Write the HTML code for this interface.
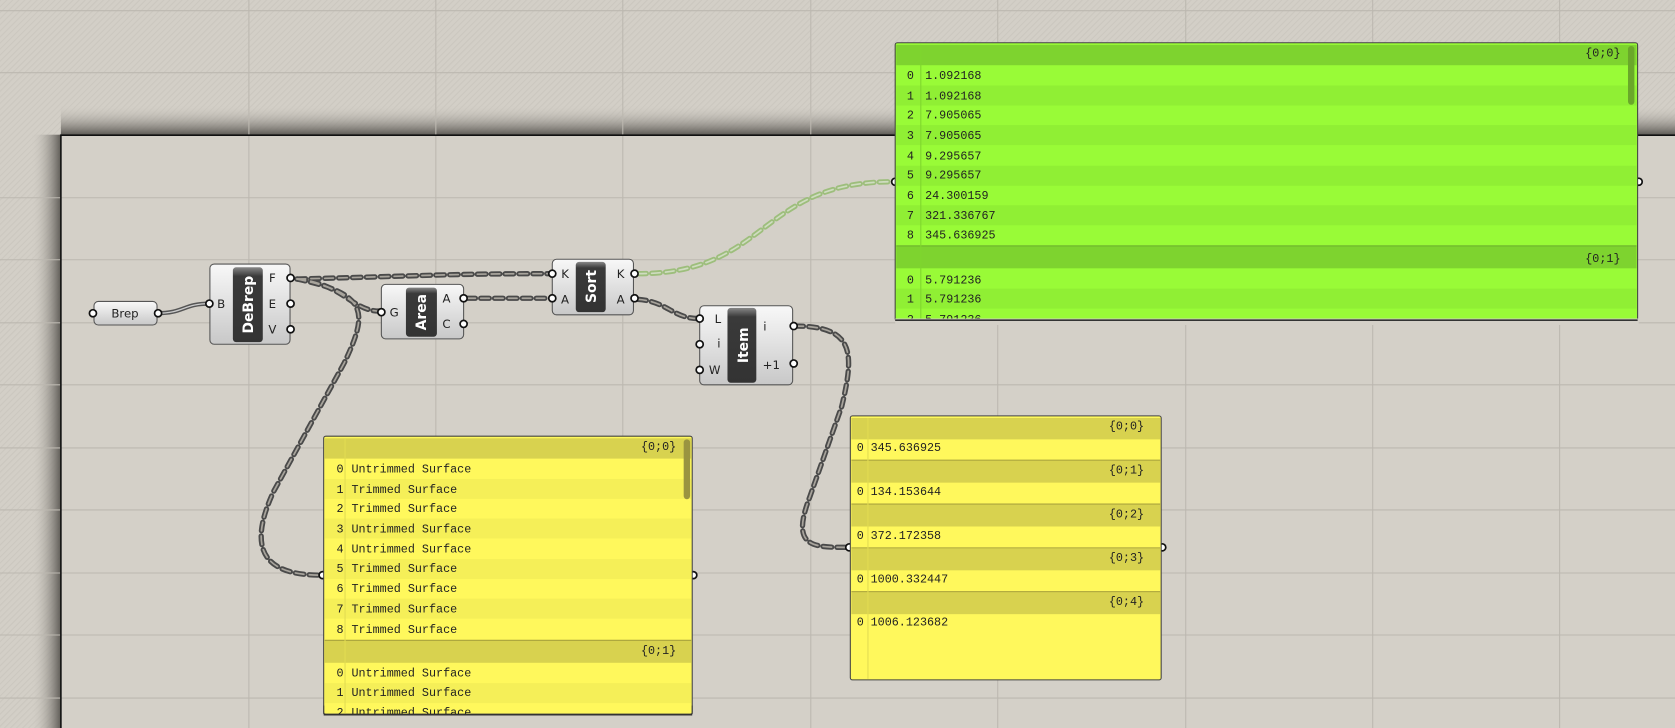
<!DOCTYPE html>
<html><head><meta charset="utf-8"><style>
html,body{margin:0;padding:0;background:#d4d0c8;overflow:hidden}
svg{display:block}
.m{font-family:"Liberation Mono",monospace;font-size:11px;fill:#222}
.s{font-family:"DejaVu Sans","Liberation Sans",sans-serif;font-size:11px;fill:#222}
.b{font-family:"DejaVu Sans","Liberation Sans",sans-serif;font-size:13px;font-weight:bold;fill:#fff}
</style></head><body>
<svg width="1675" height="728" viewBox="0 0 1568 681" preserveAspectRatio="none" xmlns="http://www.w3.org/2000/svg">
<defs>
<pattern id="h" width="4" height="4" patternUnits="userSpaceOnUse" patternTransform="rotate(45)"><rect width="4" height="4" fill="#d3cfc7"/><rect width="1" height="4" fill="#cbc7bf"/></pattern>
<linearGradient id="st" x1="0" y1="0" x2="0" y2="1"><stop offset="0" stop-color="#d3cfc7" stop-opacity="0"/><stop offset="1" stop-color="#5e5b56"/></linearGradient>
<linearGradient id="sl" x1="0" y1="0" x2="1" y2="0"><stop offset="0" stop-color="#d3cfc7" stop-opacity="0"/><stop offset="1" stop-color="#5e5b56"/></linearGradient>
<linearGradient id="nd" x1="0" y1="0" x2="0" y2="1"><stop offset="0" stop-color="#f8f8f8"/><stop offset="1" stop-color="#c8c8c8"/></linearGradient>
<linearGradient id="bar" x1="0" y1="0" x2="0" y2="1"><stop offset="0" stop-color="#888"/><stop offset="0.12" stop-color="#3a3a3a"/><stop offset="1" stop-color="#333"/></linearGradient>
</defs>
<rect width="1568" height="681" fill="url(#h)"/>
<rect x="57" y="98" width="1511" height="28" fill="url(#st)"/>
<rect x="29" y="126" width="28" height="555" fill="url(#sl)"/>
<rect x="57" y="126" width="1511" height="555" fill="#d4d0c8"/>
<g stroke="#bcb8b0" stroke-width="1">
<line x1="0" y1="10" x2="1568" y2="10"/><line x1="0" y1="68" x2="1568" y2="68"/>
<line x1="0" y1="185" x2="1568" y2="185"/><line x1="0" y1="243" x2="1568" y2="243"/><line x1="0" y1="302" x2="1568" y2="302"/><line x1="0" y1="360" x2="1568" y2="360"/><line x1="0" y1="419" x2="1568" y2="419"/><line x1="0" y1="477" x2="1568" y2="477"/><line x1="0" y1="536" x2="1568" y2="536"/><line x1="0" y1="594" x2="1568" y2="594"/><line x1="0" y1="653" x2="1568" y2="653"/>
<line x1="233" y1="0" x2="233" y2="681"/><line x1="408" y1="0" x2="408" y2="681"/><line x1="583" y1="0" x2="583" y2="681"/><line x1="759" y1="0" x2="759" y2="681"/><line x1="934" y1="0" x2="934" y2="681"/><line x1="1110" y1="0" x2="1110" y2="681"/><line x1="1285" y1="0" x2="1285" y2="681"/><line x1="1460" y1="0" x2="1460" y2="681"/>
</g>
<path d="M57,681 V126.5 H1568" fill="none" stroke="#111" stroke-width="1.5"/>

<!-- wires -->
<path d="M147,293 C172,293 172,284 196,284" fill="none" stroke="#555" stroke-width="4"/>
<path d="M147,293 C172,293 172,284 196,284" fill="none" stroke="#ccc" stroke-width="1.2"/>
<g fill="none" stroke-linecap="round">
<g stroke="#4a4a4a" stroke-width="5" stroke-dasharray="8 5">
<path d="M278,261 C400,258 420,256 515,256"/>
<path d="M278,261 C320,265 330,291 355,291"/>
<path d="M278,261 C345,275 345,292 322,340 L256,460 C232,512 245,538 300,538"/>
<path d="M437,279 L515,279"/>
<path d="M597,280 C625,282 630,298 654,298"/>
<path d="M744,305 C800,305 800,330 788,380 L758,465 C740,512 760,512 794,512"/>
</g>
<g stroke="#a8a49c" stroke-width="1.6" stroke-dasharray="8 5">
<path d="M278,261 C400,258 420,256 515,256"/>
<path d="M278,261 C320,265 330,291 355,291"/>
<path d="M278,261 C345,275 345,292 322,340 L256,460 C232,512 245,538 300,538"/>
<path d="M437,279 L515,279"/>
<path d="M597,280 C625,282 630,298 654,298"/>
<path d="M744,305 C800,305 800,330 788,380 L758,465 C740,512 760,512 794,512"/>
</g>
<path d="M597,256 C720,256 710,170 836,170" stroke="#9dbe7c" stroke-width="5" stroke-dasharray="8 5"/>
<path d="M597,256 C720,256 710,170 836,170" stroke="#cfdcc0" stroke-width="1.6" stroke-dasharray="8 5"/>
</g>

<!-- nodes -->
<rect x="88" y="282" width="59" height="22" rx="4" fill="url(#nd)" stroke="#555"/>
<text x="117" y="297" text-anchor="middle" class="s">Brep</text>

<rect x="196.5" y="247" width="75" height="75" rx="4" fill="url(#nd)" stroke="#555"/>
<rect x="218" y="250" width="28" height="70" rx="3" fill="url(#bar)"/>
<text transform="translate(237,285) rotate(-90)" text-anchor="middle" class="b">DeBrep</text>
<text x="207" y="288" text-anchor="middle" class="s">B</text>
<text x="255" y="264" text-anchor="middle" class="s">F</text><text x="255" y="288" text-anchor="middle" class="s">E</text><text x="255" y="312" text-anchor="middle" class="s">V</text>

<rect x="357" y="266" width="77" height="51" rx="4" fill="url(#nd)" stroke="#555"/>
<rect x="380" y="269" width="29" height="46" rx="3" fill="url(#bar)"/>
<text transform="translate(399,292) rotate(-90)" text-anchor="middle" class="b">Area</text>
<text x="369" y="296" text-anchor="middle" class="s">G</text>
<text x="418" y="283" text-anchor="middle" class="s">A</text><text x="418" y="307" text-anchor="middle" class="s">C</text>

<rect x="517" y="242.5" width="76" height="52" rx="4" fill="url(#nd)" stroke="#555"/>
<rect x="539" y="245" width="28" height="47" rx="3" fill="url(#bar)"/>
<text transform="translate(558,268) rotate(-90)" text-anchor="middle" class="b">Sort</text>
<text x="529" y="260" text-anchor="middle" class="s">K</text><text x="529" y="284" text-anchor="middle" class="s">A</text>
<text x="581" y="260" text-anchor="middle" class="s">K</text><text x="581" y="284" text-anchor="middle" class="s">A</text>

<rect x="655" y="286" width="87" height="74" rx="4" fill="url(#nd)" stroke="#555"/>
<rect x="681" y="288" width="27" height="70" rx="3" fill="url(#bar)"/>
<text transform="translate(700,323) rotate(-90)" text-anchor="middle" class="b">Item</text>
<text x="672" y="302" text-anchor="middle" class="s">L</text><text x="673" y="325" text-anchor="middle" class="s">i</text><text x="669" y="350" text-anchor="middle" class="s">W</text>
<text x="716" y="309" text-anchor="middle" class="s">i</text><text x="722" y="345" text-anchor="middle" class="s">+1</text>

<g fill="#fff" stroke="#111" stroke-width="1.6">
<circle cx="87" cy="293" r="3.3"/><circle cx="148" cy="293" r="3.3"/>
<circle cx="196" cy="284" r="3.3"/><circle cx="272" cy="260" r="3.3"/><circle cx="272" cy="284" r="3.3"/><circle cx="272" cy="308" r="3.3"/>
<circle cx="357" cy="292" r="3.3"/><circle cx="434" cy="279" r="3.3"/><circle cx="434" cy="303" r="3.3"/>
<circle cx="517" cy="256" r="3.3"/><circle cx="517" cy="279" r="3.3"/><circle cx="594" cy="256" r="3.3"/><circle cx="594" cy="279" r="3.3"/>
<circle cx="655" cy="298" r="3.3"/><circle cx="655" cy="322" r="3.3"/><circle cx="655" cy="346" r="3.3"/>
<circle cx="743" cy="305" r="3.3"/><circle cx="743" cy="340" r="3.3"/>
<circle cx="838" cy="170" r="3.3"/><circle cx="1534" cy="170" r="3.3"/>
<circle cx="302" cy="538" r="3.3"/><circle cx="649" cy="538" r="3.3"/>
<circle cx="795" cy="512" r="3.3"/><circle cx="1088" cy="512" r="3.3"/>
</g>

<!-- green panel -->
<rect x="838" y="40" width="695" height="260" rx="2" fill="#99fb37" stroke="#444"/>
<g>
<rect x="839" y="42" width="693" height="19" fill="#7ed32f"/>
<rect x="839" y="80" width="693" height="18.7" fill="#90ef34"/>
<rect x="839" y="117" width="693" height="18.7" fill="#90ef34"/>
<rect x="839" y="155" width="693" height="18.7" fill="#90ef34"/>
<rect x="839" y="192" width="693" height="18.7" fill="#90ef34"/>
<rect x="839" y="230" width="693" height="21" fill="#7ed32f"/>
<rect x="839" y="270" width="693" height="18.7" fill="#90ef34"/>
<line x1="839" y1="230" x2="1532" y2="230" stroke="#6aab2c"/>
<line x1="862" y1="42" x2="862" y2="299" stroke="#7fd62e"/>
<rect x="1524" y="43" width="6" height="55" rx="3" fill="#6aa82a"/>
</g>
<g class="m">
<text x="1517" y="53" text-anchor="end">{0;0}</text>
<text x="1517" y="245" text-anchor="end">{0;1}</text>
<text x="849" y="74">0</text><text x="866" y="74">1.092168</text>
<text x="849" y="93">1</text><text x="866" y="93">1.092168</text>
<text x="849" y="111">2</text><text x="866" y="111">7.905065</text>
<text x="849" y="130">3</text><text x="866" y="130">7.905065</text>
<text x="849" y="149">4</text><text x="866" y="149">9.295657</text>
<text x="849" y="167">5</text><text x="866" y="167">9.295657</text>
<text x="849" y="186">6</text><text x="866" y="186">24.300159</text>
<text x="849" y="205">7</text><text x="866" y="205">321.336767</text>
<text x="849" y="223">8</text><text x="866" y="223">345.636925</text>
<text x="849" y="265">0</text><text x="866" y="265">5.791236</text>
<text x="849" y="283">1</text><text x="866" y="283">5.791236</text>
<text x="849" y="302">2</text><text x="866" y="302">5.791236</text>
</g>
<rect x="838" y="298" width="696" height="6" fill="#d4d0c8"/>
<line x1="838" y1="299.5" x2="1533" y2="299.5" stroke="#333" stroke-width="1.5"/>

<!-- yellow panel 1 -->
<rect x="303" y="408" width="345" height="260" rx="2" fill="#fff85c" stroke="#444"/>
<rect x="304" y="410" width="343" height="19" fill="#d8d24f"/>
<rect x="304" y="448" width="343" height="18.7" fill="#f5ef58"/>
<rect x="304" y="485" width="343" height="18.7" fill="#f5ef58"/>
<rect x="304" y="523" width="343" height="18.7" fill="#f5ef58"/>
<rect x="304" y="560" width="343" height="18.7" fill="#f5ef58"/>
<rect x="304" y="599" width="343" height="21" fill="#d8d24f"/>
<rect x="304" y="639" width="343" height="18.7" fill="#f5ef58"/>
<line x1="304" y1="599" x2="647" y2="599" stroke="#a8a23c"/>
<line x1="323" y1="410" x2="323" y2="667" stroke="#e2dc52"/>
<rect x="640" y="411" width="6" height="56" rx="3" fill="#9a9440"/>
<g class="m">
<text x="633" y="421" text-anchor="end">{0;0}</text>
<text x="633" y="612" text-anchor="end">{0;1}</text>
<text x="315" y="442">0</text><text x="329" y="442">Untrimmed Surface</text>
<text x="315" y="461">1</text><text x="329" y="461">Trimmed Surface</text>
<text x="315" y="479">2</text><text x="329" y="479">Trimmed Surface</text>
<text x="315" y="498">3</text><text x="329" y="498">Untrimmed Surface</text>
<text x="315" y="517">4</text><text x="329" y="517">Untrimmed Surface</text>
<text x="315" y="535">5</text><text x="329" y="535">Trimmed Surface</text>
<text x="315" y="554">6</text><text x="329" y="554">Trimmed Surface</text>
<text x="315" y="573">7</text><text x="329" y="573">Trimmed Surface</text>
<text x="315" y="592">8</text><text x="329" y="592">Trimmed Surface</text>
<text x="315" y="633">0</text><text x="329" y="633">Untrimmed Surface</text>
<text x="315" y="651">1</text><text x="329" y="651">Untrimmed Surface</text>
<text x="315" y="670">2</text><text x="329" y="670">Untrimmed Surface</text>
</g>
<rect x="300" y="668" width="352" height="13" fill="#d4d0c8"/>
<line x1="303" y1="668.5" x2="648" y2="668.5" stroke="#333" stroke-width="1.5"/>
<line x1="303" y1="660" x2="303" y2="668" stroke="#444"/><line x1="648" y1="660" x2="648" y2="668" stroke="#444"/>

<!-- yellow panel 2 -->
<rect x="796" y="389" width="291" height="247" rx="2" fill="#fff85c" stroke="#444"/>
<g fill="#d8d24f">
<rect x="797" y="391" width="289" height="20"/>
<rect x="797" y="431" width="289" height="20.5"/>
<rect x="797" y="472" width="289" height="20.5"/>
<rect x="797" y="513" width="289" height="20.5"/>
<rect x="797" y="554" width="289" height="20.5"/>
</g>
<g stroke="#a8a23c"><line x1="797" y1="430.5" x2="1086" y2="430.5"/><line x1="797" y1="471.5" x2="1086" y2="471.5"/><line x1="797" y1="512.5" x2="1086" y2="512.5"/><line x1="797" y1="553.5" x2="1086" y2="553.5"/></g>
<line x1="812.5" y1="391" x2="812.5" y2="635" stroke="#e2dc52"/>
<g class="m">
<text x="1071" y="402" text-anchor="end">{0;0}</text>
<text x="1071" y="443" text-anchor="end">{0;1}</text>
<text x="1071" y="484" text-anchor="end">{0;2}</text>
<text x="1071" y="525" text-anchor="end">{0;3}</text>
<text x="1071" y="566" text-anchor="end">{0;4}</text>
<text x="802" y="422">0</text><text x="815" y="422">345.636925</text>
<text x="802" y="463">0</text><text x="815" y="463">134.153644</text>
<text x="802" y="504">0</text><text x="815" y="504">372.172358</text>
<text x="802" y="545">0</text><text x="815" y="545">1000.332447</text>
<text x="802" y="585">0</text><text x="815" y="585">1006.123682</text>
</g>
</svg>
</body></html>
